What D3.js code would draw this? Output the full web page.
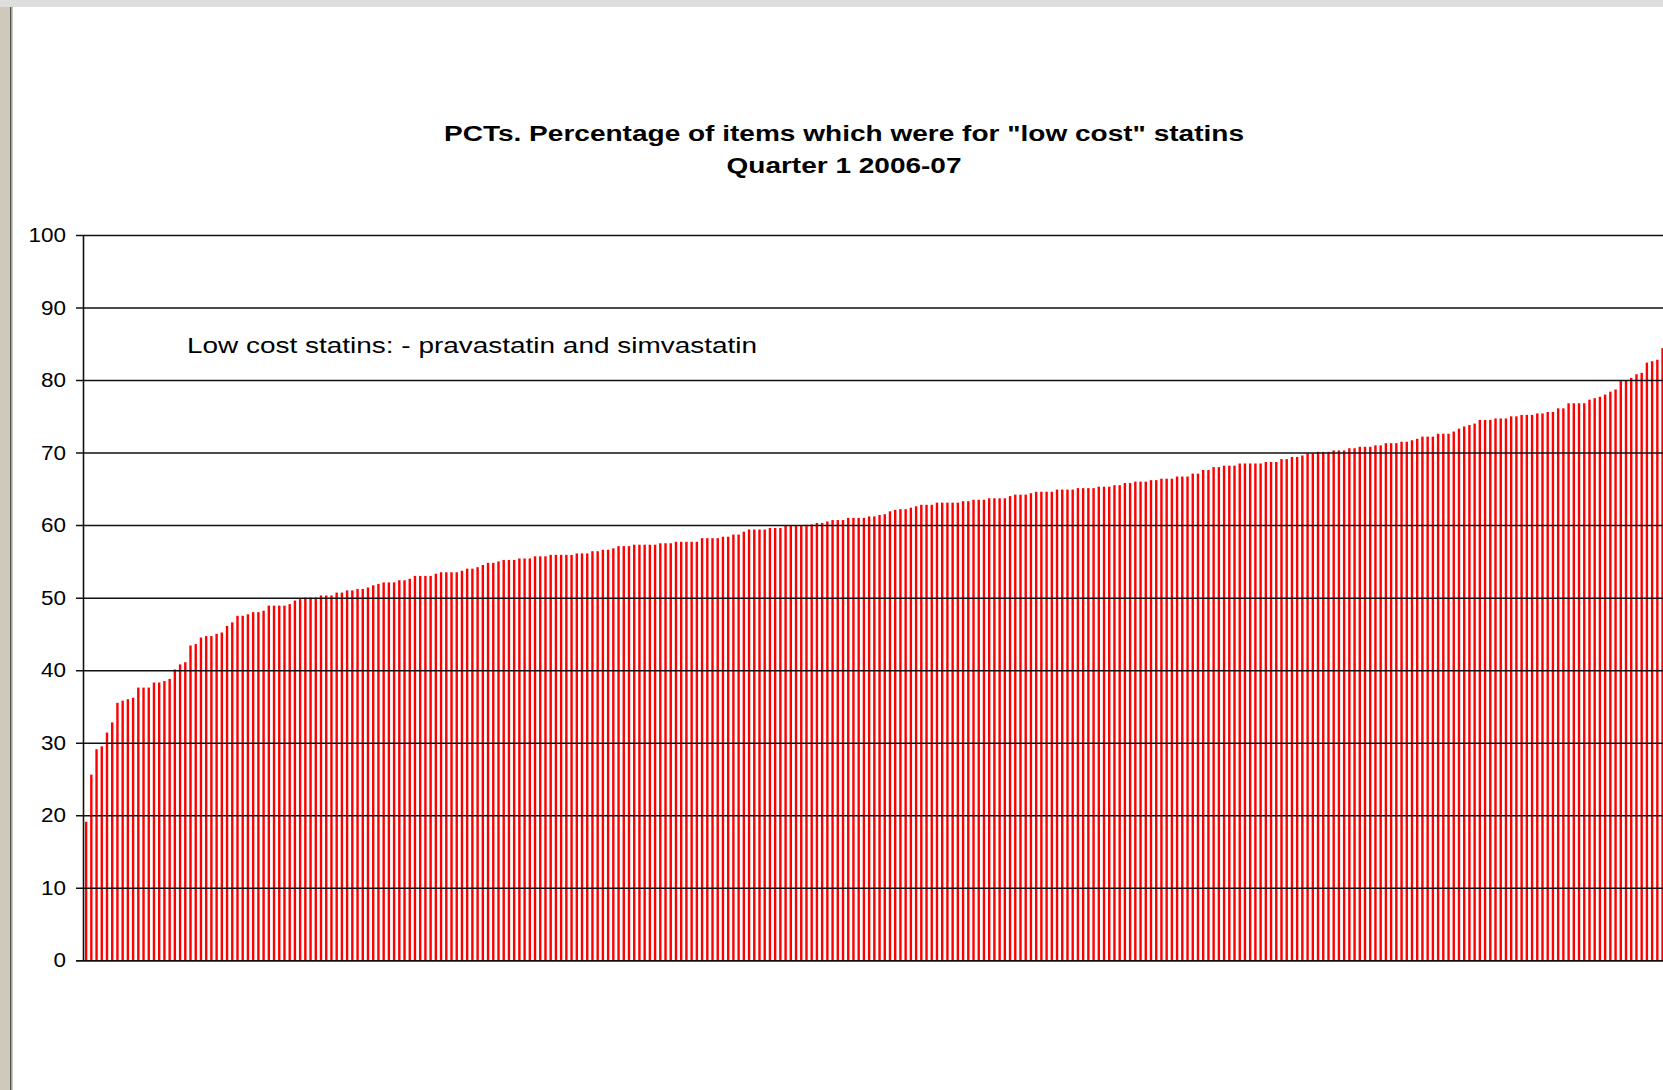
<!DOCTYPE html>
<html>
<head>
<meta charset="utf-8">
<script src="https://cdn.jsdelivr.net/npm/d3@7"></script>
<style>
	body { margin: 0; background: #fff; }
	svg { display: block; }
	text { font-family: "Liberation Sans", Arial, sans-serif; fill: #000; }
</style>
</head>
<body>
<script>
// % of statin items that were "low cost", one bar per PCT, sorted
var lowCostPct = [
	19.1, 25.6, 29.1, 29.5, 31.4, 32.8, 35.5, 35.8, 36.0, 36.2,
	37.6, 37.6, 37.6, 38.3, 38.3, 38.5, 38.8, 40.1, 40.8, 41.1,
	43.4, 43.6, 44.5, 44.7, 44.7, 45.0, 45.2, 46.1, 46.6, 47.5,
	47.5, 47.7, 48.0, 48.0, 48.2, 48.9, 48.9, 48.9, 48.9, 49.1,
	49.6, 49.8, 50.0, 50.0, 50.0, 50.3, 50.3, 50.3, 50.7, 50.7,
	51.0, 51.0, 51.2, 51.2, 51.4, 51.7, 51.9, 52.1, 52.1, 52.1,
	52.4, 52.4, 52.6, 53.0, 53.0, 53.0, 53.0, 53.3, 53.5, 53.5,
	53.5, 53.5, 53.7, 54.0, 54.0, 54.2, 54.5, 54.8, 54.8, 55.0,
	55.2, 55.2, 55.2, 55.4, 55.4, 55.4, 55.7, 55.7, 55.7, 55.9,
	55.9, 55.9, 55.9, 55.9, 56.1, 56.1, 56.1, 56.4, 56.4, 56.6,
	56.6, 56.8, 57.1, 57.1, 57.1, 57.3, 57.3, 57.3, 57.3, 57.3,
	57.5, 57.5, 57.5, 57.7, 57.7, 57.7, 57.7, 57.7, 58.2, 58.2,
	58.2, 58.2, 58.4, 58.4, 58.7, 58.7, 59.1, 59.4, 59.4, 59.4,
	59.4, 59.6, 59.6, 59.6, 59.9, 60.0, 60.0, 60.0, 60.05, 60.1,
	60.3, 60.3, 60.5, 60.7, 60.7, 60.7, 61.0, 61.0, 61.0, 61.0,
	61.2, 61.2, 61.4, 61.5, 61.9, 62.1, 62.2, 62.2, 62.4, 62.6,
	62.8, 62.8, 62.8, 63.1, 63.1, 63.1, 63.1, 63.1, 63.3, 63.3,
	63.5, 63.5, 63.5, 63.7, 63.7, 63.7, 63.7, 64.0, 64.2, 64.2,
	64.2, 64.4, 64.6, 64.6, 64.6, 64.6, 64.9, 64.9, 64.9, 64.9,
	65.1, 65.1, 65.1, 65.1, 65.3, 65.3, 65.3, 65.5, 65.5, 65.8,
	65.8, 66.0, 66.0, 66.0, 66.2, 66.2, 66.4, 66.4, 66.4, 66.7,
	66.7, 66.7, 67.1, 67.1, 67.6, 67.6, 68.0, 68.0, 68.2, 68.2,
	68.2, 68.5, 68.5, 68.5, 68.5, 68.5, 68.7, 68.7, 68.7, 69.1,
	69.1, 69.4, 69.4, 69.6, 69.9, 69.9, 70.1, 70.1, 70.1, 70.3,
	70.3, 70.3, 70.6, 70.6, 70.8, 70.8, 70.8, 71.0, 71.0, 71.3,
	71.3, 71.3, 71.5, 71.5, 71.7, 71.9, 72.2, 72.2, 72.2, 72.6,
	72.6, 72.6, 72.9, 73.3, 73.6, 73.8, 74.0, 74.5, 74.5, 74.5,
	74.7, 74.7, 74.7, 75.0, 75.0, 75.2, 75.2, 75.2, 75.4, 75.4,
	75.6, 75.6, 76.1, 76.1, 76.8, 76.8, 76.8, 76.8, 77.3, 77.5,
	77.7, 78.0, 78.4, 78.7, 79.9, 80.0, 80.3, 80.8, 81.0, 82.4,
	82.6, 82.8, 84.4
];

// PCTs have no labels on the axis, just their rank
var pctRank = lowCostPct.map(function (d, i) { return i + 1; });

var yTicks = [0, 10, 20, 30, 40, 50, 60, 70, 80, 90, 100];

var titleLines = ['PCTs. Percentage of items which were for "low cost" statins', 'Quarter 1 2006-07'];
var noteText = 'Low cost statins: - pravastatin and simvastatin';

var W = 1663,
	H = 1090,
	plotLeft = 83.5,
	step = 5.22,
	plotTop = 235,
	plotBottom = 960.3;

var svg = d3.select('body').append('svg')
	.attr('width', W)
	.attr('height', H);

// window chrome: grey strip on top, beige frame on the left
svg.append('rect').attr('x', 0).attr('y', 0).attr('width', W).attr('height', 7).attr('fill', '#dedede');
svg.append('rect').attr('x', 0).attr('y', 7).attr('width', 10).attr('height', H - 7).attr('fill', '#cdcabb');
svg.append('rect').attr('x', 10).attr('y', 7).attr('width', 1.5).attr('height', H - 7).attr('fill', '#55554d');
svg.append('rect').attr('x', 11.5).attr('y', 7).attr('width', 1).attr('height', H - 7).attr('fill', '#9a9a90');

var x = d3.scaleBand()
	.domain(pctRank)
	.range([plotLeft, plotLeft + pctRank.length * step]);

var y = d3.scaleLinear()
	.domain([0, 100])
	.range([plotBottom, plotTop]);

var barW = 2.4;

svg.append('g')
	.selectAll('rect')
	.data(lowCostPct)
	.enter().append('rect')
		.attr('x', function (d, i) { return x(pctRank[i]) + x.bandwidth() / 2 - barW / 2; })
		.attr('y', function (d) { return y(d); })
		.attr('width', barW)
		.attr('height', function (d) { return y(0) - y(d); })
		.attr('fill', '#ff0000');

// gridlines + ticks, drawn over the thin bars
var yAxis = d3.axisLeft(y)
	.tickValues(yTicks)
	.tickSize(-(W - plotLeft))
	.tickFormat('');

var ax = svg.append('g')
	.attr('transform', 'translate(' + plotLeft + ',0)')
	.call(yAxis);

ax.select('.domain').remove();
ax.selectAll('.tick line')
	.attr('x1', -7.5)
	.attr('stroke', '#111')
	.attr('stroke-width', function (d) { return d === 0 ? 1.8 : 1.5; });

svg.append('line')
	.attr('x1', plotLeft).attr('x2', plotLeft)
	.attr('y1', y(100)).attr('y2', y(0))
	.attr('stroke', '#111')
	.attr('stroke-width', 1.6);

// tick labels - the source picture is stretched sideways, so textLength
var digitW = 12.5;
svg.append('g')
	.selectAll('text')
	.data(yTicks)
	.enter().append('text')
		.attr('x', function (d) { return 66 - String(d).length * digitW; })
		.attr('y', function (d) { return y(d) + 7; })
		.attr('textLength', function (d) { return String(d).length * digitW; })
		.attr('lengthAdjust', 'spacingAndGlyphs')
		.style('font-size', '19.5px')
		.text(function (d) { return d; });

var titleLen = [800, 235];
svg.append('g')
	.selectAll('text')
	.data(titleLines)
	.enter().append('text')
		.attr('x', function (d, i) { return 844 - titleLen[i] / 2; })
		.attr('y', function (d, i) { return 141 + i * 32; })
		.attr('textLength', function (d, i) { return titleLen[i]; })
		.attr('lengthAdjust', 'spacingAndGlyphs')
		.style('font-size', '22.5px')
		.style('font-weight', 'bold')
		.text(function (d) { return d; });

svg.append('text')
	.attr('x', 187)
	.attr('y', 353)
	.attr('textLength', 570)
	.attr('lengthAdjust', 'spacingAndGlyphs')
	.style('font-size', '22px')
	.text(noteText);
</script>
</body>
</html>
